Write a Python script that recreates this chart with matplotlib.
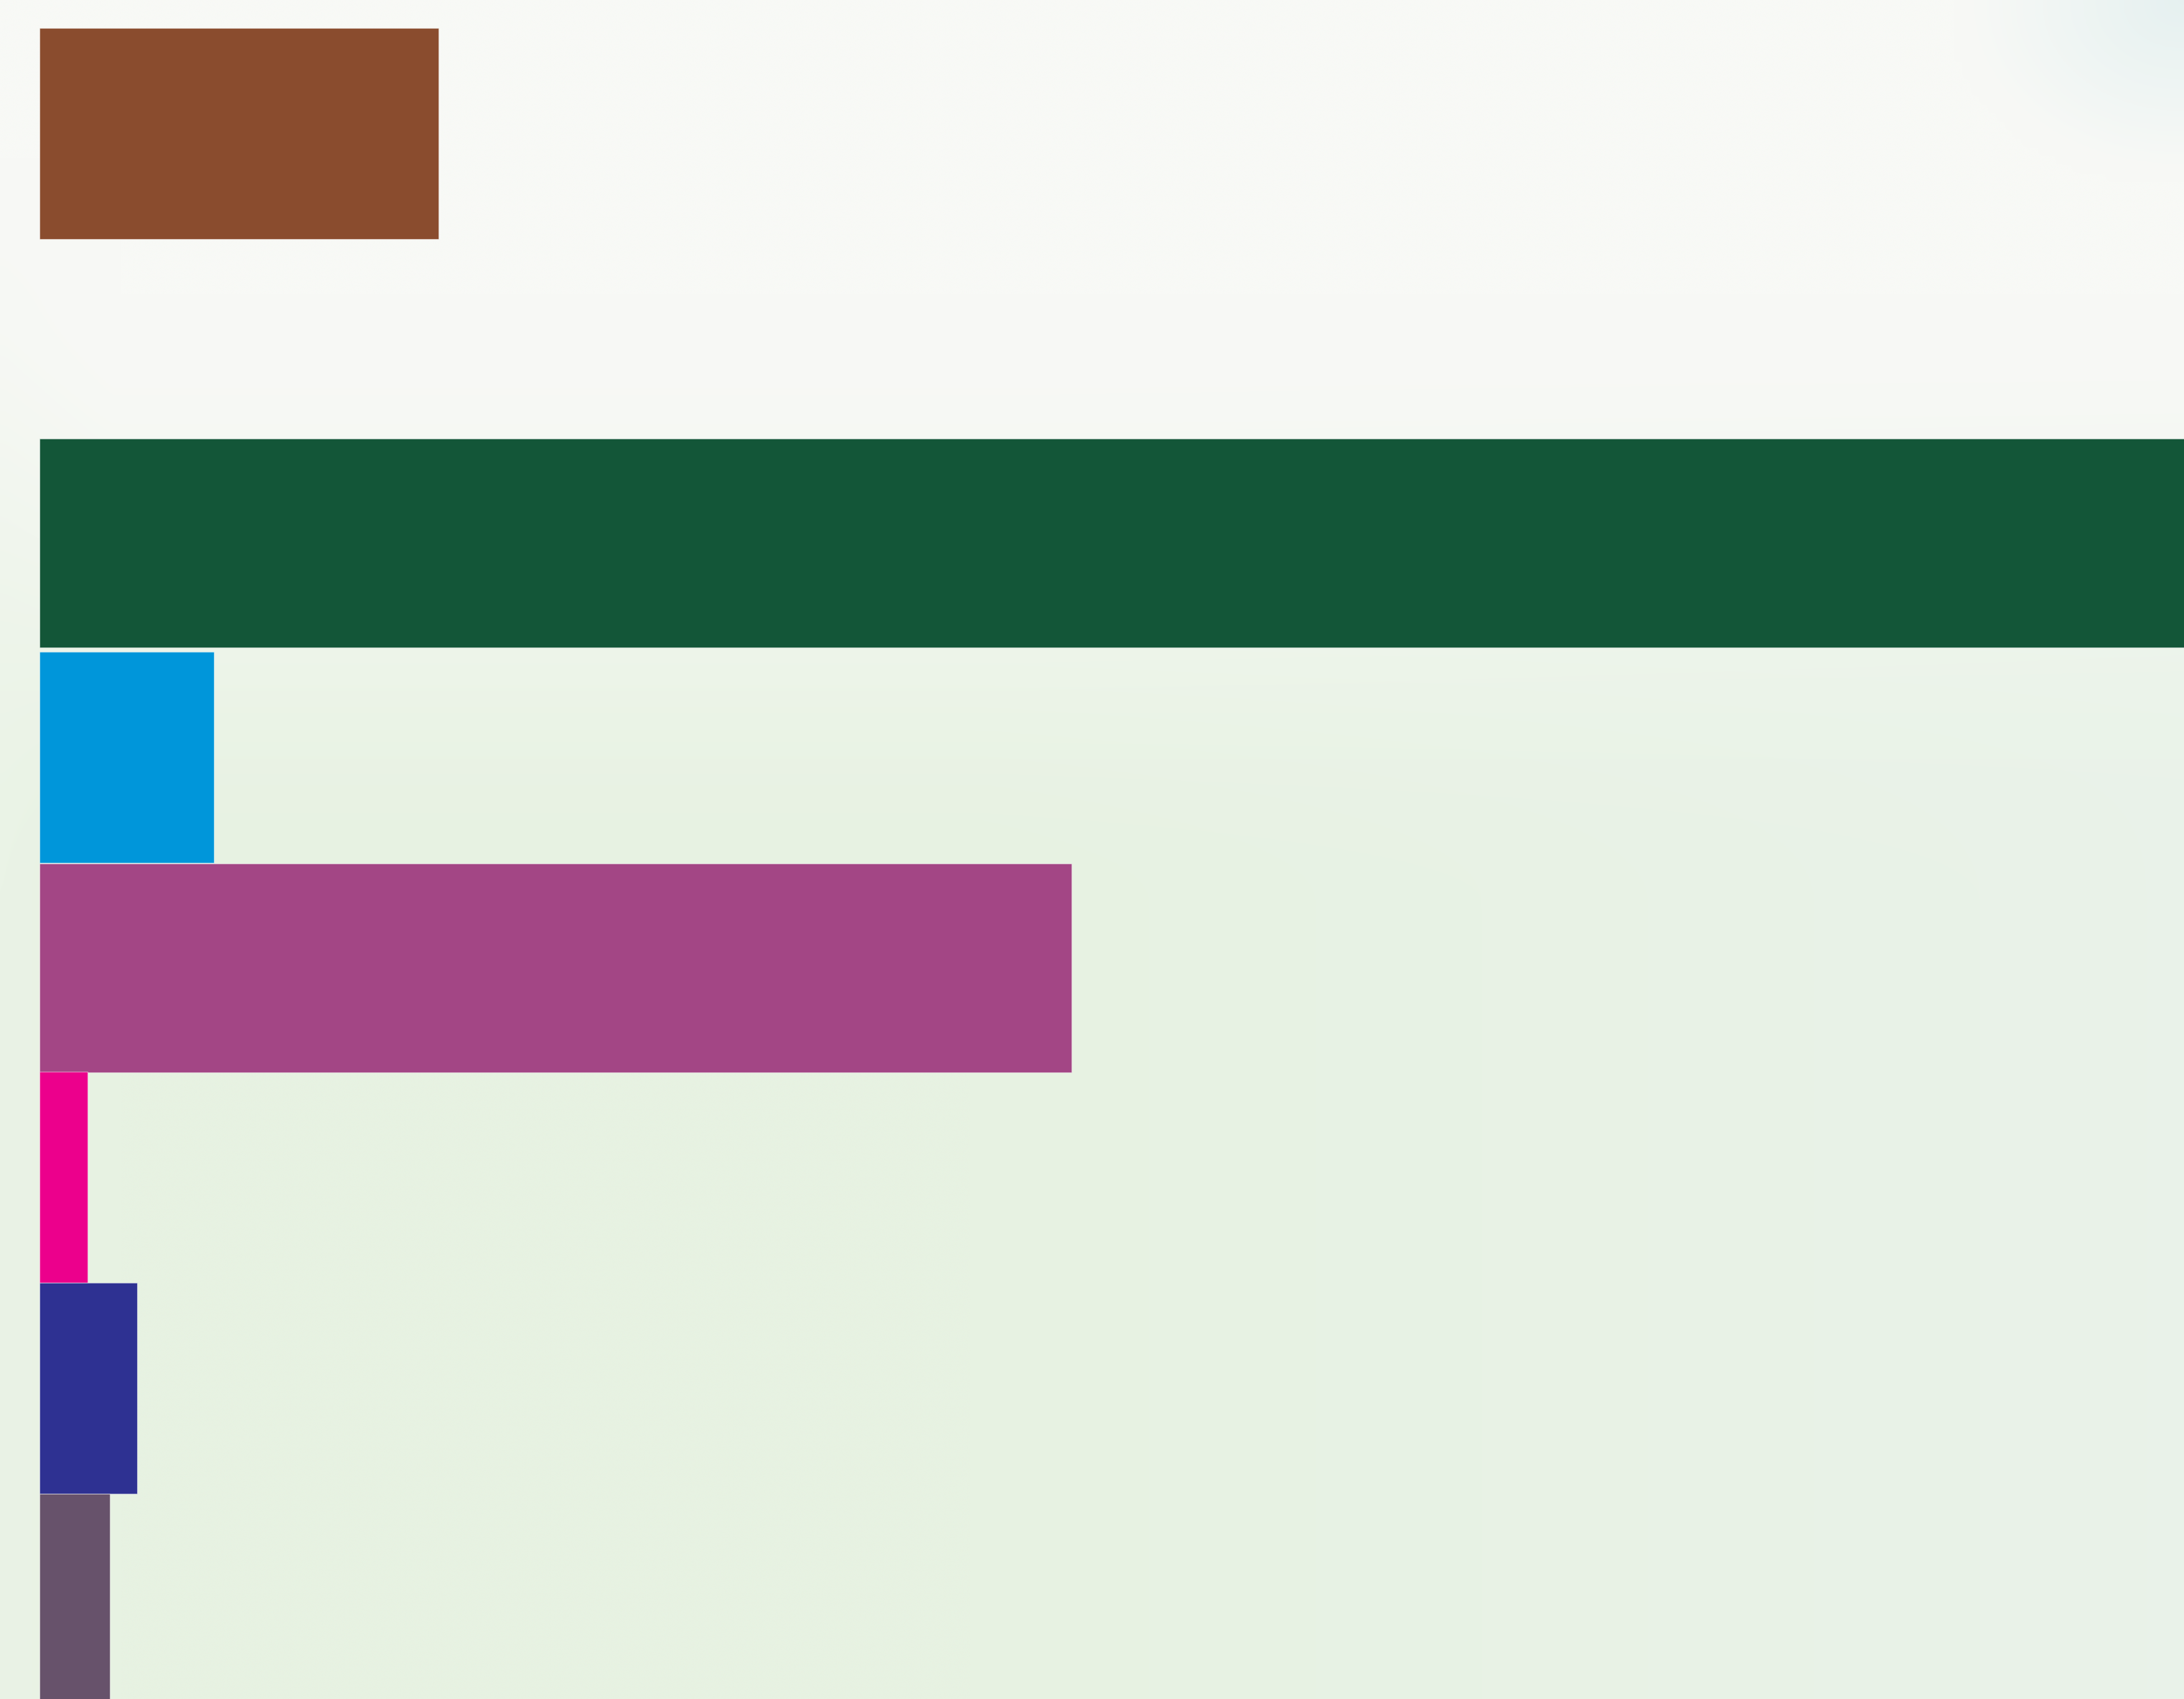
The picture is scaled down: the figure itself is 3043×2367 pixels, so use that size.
import numpy as np
import matplotlib
matplotlib.use("Agg")
import matplotlib.pyplot as plt
from matplotlib.colors import to_rgb

# Data
categories = ["A", "B", "C", "D", "E", "F", "G", "H"]
values = [55.6, 0.0, 320.0, 24.3, 143.8, 6.7, 13.6, 9.8]
colors = ["#8A4C2E", "#FFFFFF", "#135638", "#0096DA", "#A34685", "#EC008C", "#2E3192", "#67526B"]

W, H = 3043, 2367
fig = plt.figure(figsize=(W / 100, H / 100), dpi=100)

# background gradient
bg = fig.add_axes([0, 0, 1, 1], zorder=0)
bg.set_axis_off()
ny, nx = 200, 260
yy, xx = np.mgrid[0:1:ny * 1j, 0:1:nx * 1j]
top = np.array(to_rgb("#F8F9F6"))
bottom = np.array(to_rgb("#E7F2E2"))
brc = np.array(to_rgb("#EBF3EE"))
t = np.clip((yy - 0.18) / 0.35, 0, 1)
t = t * t * (3 - 2 * t)
img = top[None, None, :] * (1 - t[..., None]) + bottom[None, None, :] * t[..., None]
r = np.clip((xx - 0.45) / 0.55, 0, 1) * t
img = img * (1 - r[..., None] * 0.6) + brc[None, None, :] * (r[..., None] * 0.6)
le = np.clip(1 - xx / 0.05, 0, 1) * np.clip((yy - 0.1) / 0.3, 0, 1) * 0.5
img = img * (1 - le[..., None]) + np.array(to_rgb("#EDF4EA"))[None, None, :] * le[..., None]
d = np.sqrt(((xx - 1.0) / 0.1) ** 2 + ((yy - 0.0) / 0.1) ** 2)
w = np.clip(1 - d, 0, 1) * 0.9
img = img * (1 - w[..., None]) + np.array(to_rgb("#E4F0F0"))[None, None, :] * w[..., None]
bg.imshow(img, extent=[0, 1, 1, 0], aspect="auto", interpolation="bicubic")
bg.set_xlim(0, 1)
bg.set_ylim(1, 0)

# bars
left_px = 55
ax = fig.add_axes([left_px / W, 0, 1 - left_px / W, 1], zorder=1)
ax.patch.set_alpha(0)
centers = [0.554, 1.5, 2.495, 3.51, 4.508, 5.5, 6.5, 7.5]
heights = [1.0, 1.0, 0.99, 1.0, 0.99, 1.0, 1.0, 1.0]
for c, hgt, v, col in zip(centers, heights, values, colors):
    if v > 0:
        ax.barh(c, v, height=hgt, color=col, edgecolor=(1, 1, 1, 0.45), linewidth=0.8)
ax.set_xlim(0, (W - left_px) / 10)
ax.set_ylim((H - 611) / 294 + 2, -611 / 294 + 2)
ax.set_axis_off()

fig.savefig("out.png", dpi=100)
